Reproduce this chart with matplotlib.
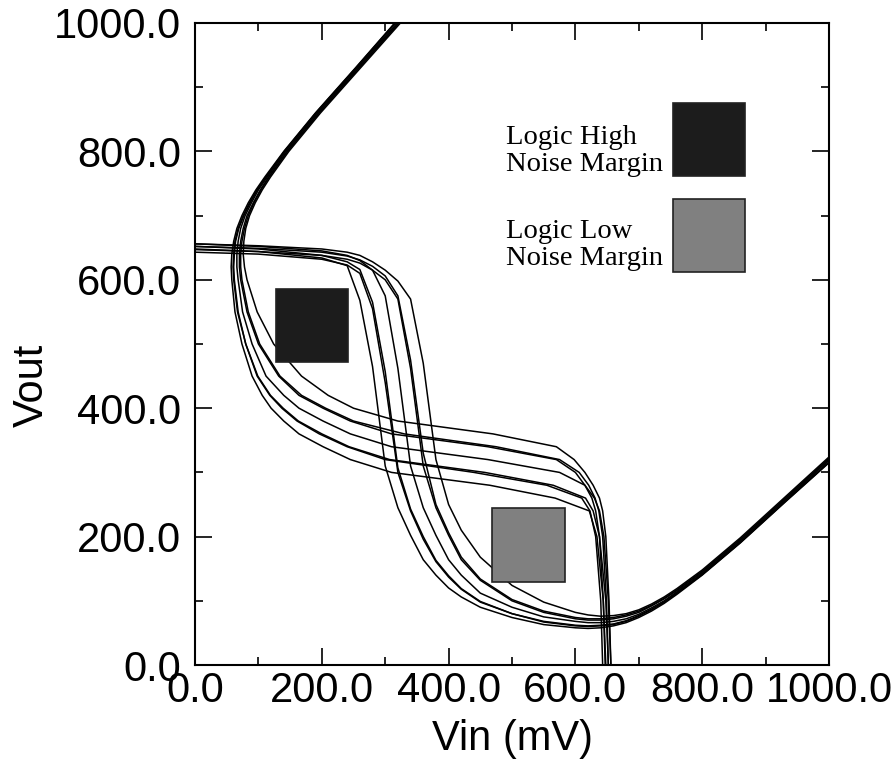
import matplotlib
matplotlib.use("Agg")
import matplotlib.pyplot as plt
from matplotlib.patches import Rectangle
from matplotlib.ticker import MultipleLocator, FormatStrFormatter

# Inverter transfer curves (Vin in mV -> Vout).
# Every curve is drawn twice: as Vout(Vin) and mirrored, which gives the butterfly.
VIN = [0, 100, 200, 240, 260, 280, 300, 320, 340, 360, 380, 400, 420,
       450, 500, 550, 600, 620, 640, 660, 680, 700, 720, 740, 760, 800,
       860, 930, 1000]

VOUT_A = [648, 644, 634, 622, 568, 465, 310, 245, 202, 164, 140, 120, 106,
          90, 74, 63, 58, 57, 58, 61, 66, 74, 84, 96, 110, 140, 190, 253, 315]
VOUT_B = [652, 648, 638, 628, 616, 565, 457, 307, 243, 200, 163, 139, 119,
          99, 80, 67, 61, 60, 61, 63, 68, 76, 86, 98, 112, 141, 191, 254, 316]
VOUT_C = [643, 640, 632, 623, 610, 555, 440, 300, 240, 196, 161, 137, 118,
          98, 80, 68, 62, 61, 62, 64, 69, 77, 87, 98, 112, 141, 191, 254, 316]
VOUT_D = [656, 652, 645, 638, 630, 615, 575, 462, 310, 245, 202, 164, 140,
          112, 90, 75, 68, 66, 66, 68, 72, 79, 89, 100, 114, 143, 193, 256, 319]
VOUT_E = [647, 644, 638, 632, 626, 615, 600, 570, 462, 310, 245, 202, 164,
          132, 100, 82, 72, 70, 70, 72, 76, 82, 92, 103, 116, 145, 195, 258, 321]
VOUT_F = [652, 649, 643, 637, 631, 621, 606, 575, 475, 330, 250, 206, 168,
          134, 102, 84, 74, 72, 72, 74, 78, 84, 93, 104, 117, 146, 196, 259, 322]
VOUT_G = [656, 653, 648, 643, 638, 628, 615, 598, 570, 470, 320, 250, 210,
          168, 124, 98, 82, 78, 76, 77, 80, 86, 95, 106, 119, 148, 198, 261, 324]

CURVES = [VOUT_A, VOUT_B, VOUT_C, VOUT_D, VOUT_E, VOUT_F, VOUT_G]

# noise margin squares: (x0, y0, size) in mV
HIGH_NM_BOX = (128, 472, 114)
LOW_NM_BOX = (469, 130, 114)
KEY_HIGH_BOX = (754, 761, 114)
KEY_LOW_BOX = (754, 612, 114)
HIGH_COLOR = "#1c1c1c"
LOW_COLOR = "#808080"

plt.rcParams["font.family"] = ["Liberation Sans", "DejaVu Sans"]

fig = plt.figure(figsize=(8.93, 7.76), dpi=100)
ax = fig.add_axes([0.2184, 0.1430, 0.7099, 0.8274])

for vout in CURVES:
    ax.plot(VIN, vout, color="black", linewidth=1.1)
    ax.plot(vout, VIN, color="black", linewidth=1.1)

for (x0, y0, s), col in [(HIGH_NM_BOX, HIGH_COLOR), (LOW_NM_BOX, LOW_COLOR),
                         (KEY_HIGH_BOX, HIGH_COLOR), (KEY_LOW_BOX, LOW_COLOR)]:
    ax.add_patch(Rectangle((x0, y0), s, s, facecolor=col,
                           edgecolor="#222222", linewidth=1.2, zorder=3))

ax.text(490, 800, "Logic High\nNoise Margin", family="Liberation Serif",
        fontsize=20.5, va="center", ha="left", linespacing=1.1)
ax.text(490, 654, "Logic Low\nNoise Margin", family="Liberation Serif",
        fontsize=20.5, va="center", ha="left", linespacing=1.1)

ax.set_xlim(0, 1000)
ax.set_ylim(0, 1000)
ax.xaxis.set_major_locator(MultipleLocator(200))
ax.yaxis.set_major_locator(MultipleLocator(200))
ax.xaxis.set_minor_locator(MultipleLocator(100))
ax.yaxis.set_minor_locator(MultipleLocator(100))
ax.xaxis.set_major_formatter(FormatStrFormatter("%.1f"))
ax.yaxis.set_major_formatter(FormatStrFormatter("%.1f"))
ax.tick_params(which="both", direction="in", top=True, right=True, width=1.2)
ax.tick_params(which="major", length=12, labelsize=30)
ax.tick_params(axis="x", which="major", pad=4)
ax.tick_params(axis="y", which="major", pad=10)
ax.tick_params(which="minor", length=6)
for sp in ax.spines.values():
    sp.set_linewidth(1.5)

ax.set_xlabel("Vin (mV)", fontsize=30, labelpad=6)
ax.set_ylabel("Vout", fontsize=30)
ax.yaxis.set_label_coords(-0.226, 0.435)

fig.savefig("out.png", dpi=100)
